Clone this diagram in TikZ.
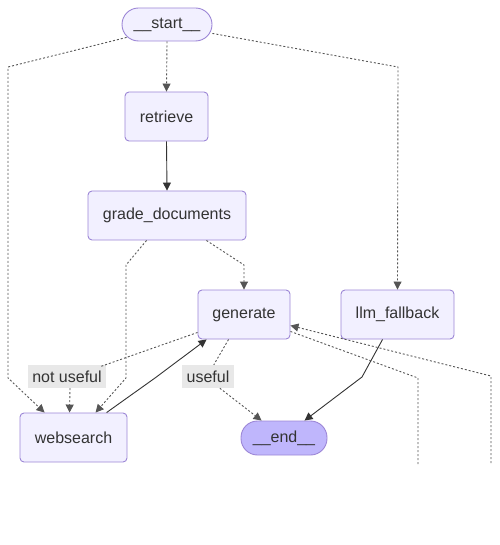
\documentclass[tikz,border=0pt]{standalone}
\usepackage{fontspec}
\setmainfont{Liberation Sans}
\usetikzlibrary{arrows.meta}
\definecolor{nodefill}{HTML}{F2F0FF}
\definecolor{nodestroke}{HTML}{9C86D6}
\definecolor{endfill}{HTML}{BFB6FC}
\definecolor{edgecol}{HTML}{333333}
\definecolor{dashcol}{HTML}{555555}
\definecolor{lblfill}{HTML}{E8E8E8}
\definecolor{txtcol}{HTML}{333333}
\tikzset{
  box/.style={draw=nodestroke, fill=nodefill, rounded corners=4pt, line width=0.9pt,
    font=\fontsize{16}{19}\selectfont, text=txtcol, inner sep=0pt},
  stadium/.style={draw=nodestroke, line width=0.9pt, rounded corners=16.5pt,
    font=\fontsize{16}{19}\selectfont, text=txtcol, inner sep=0pt},
  solidedge/.style={draw=edgecol, line width=0.9pt, -{Triangle[length=8pt,width=8pt]}},
  dashedge/.style={draw=dashcol, line width=0.9pt, dash pattern=on 2pt off 2pt, -{Triangle[length=8pt,width=8pt]}},
  dashline/.style={draw=dashcol, line width=0.9pt, dash pattern=on 2pt off 2pt},
  lbl/.style={fill=lblfill, font=\fontsize{16}{19}\selectfont, text=txtcol, inner sep=0pt, minimum height=23pt},
}
\begin{document}
\begin{tikzpicture}[x=1pt,y=-1pt]
\useasboundingbox (0,0) rectangle (499,545);
% nodes
\node[stadium, fill=nodefill, minimum width=90pt, minimum height=33pt] (start) at (167,24.5) {\_\_start\_\_};
\node[box, minimum width=83pt, minimum height=49pt] (retrieve) at (166.5,116.5) {retrieve};
\node[box, minimum width=158pt, minimum height=49pt] (grade) at (167,215.5) {grade\_documents};
\node[box, minimum width=92pt, minimum height=49pt] (generate) at (244,314.5) {generate};
\node[box, minimum width=113pt, minimum height=49pt] (llm) at (397.5,314.5) {llm\_fallback};
\node[box, minimum width=107pt, minimum height=49pt] (web) at (73.5,437.5) {websearch};
\node[stadium, fill=endfill, minimum width=86pt, minimum height=34pt] (end) at (284,438) {\_\_end\_\_};
% labels
\node[lbl, minimum width=78pt] (lnot) at (67,376.5) {not useful};
\node[lbl, minimum width=52pt] (luse) at (208,376.5) {useful};
% coordinates
\coordinate (c1) at (8,67);
\coordinate (c2) at (8,378);
\coordinate (c3) at (398,67);
\coordinate (c4) at (244,265);
\coordinate (c5) at (126,265);
\coordinate (c6) at (126,378);
\coordinate (c7) at (155,378);
\coordinate (c8) at (362,377);
\coordinate (c9) at (418,378);
\coordinate (c10) at (418,465);
\coordinate (c11) at (491,376);
\coordinate (c12) at (491,463);
% edges
\draw[dashedge] (start.south) -- (retrieve.north);
\draw[dashedge] (start.south west) ++(5,-4) -- (c1) -- (c2) -- ([xshift=25pt]web.north west);
\draw[dashedge] (start.south east) ++(0,-8) -- (c3) -- (llm.north);
\draw[solidedge] (retrieve.south) -- (grade.south |- grade.north);
\draw[dashedge] ([xshift=-40pt]grade.south east) -- (c4) -- (generate.north);
\draw[dashedge] ([xshift=59pt]grade.south west) -- (c5) -- (c6) -- ([xshift=76pt]web.north west);
\draw[dashline] ([yshift=7pt]generate.south west) -- ([xshift=72pt,yshift=-2pt]lnot.north west);
\draw[dashedge] ([xshift=3pt]lnot.south) -- ([xshift=50pt]web.north west);
\draw[solidedge] ([xshift=87pt]web.north west) -- (c7) -- ([xshift=9pt]generate.south west);
\draw[dashline] ([xshift=31pt]generate.south west) -- ([xshift=32pt]luse.north west);
\draw[dashedge] ([xshift=38pt]luse.south west) -- ([xshift=21pt]end.north west);
\draw[solidedge] ([xshift=42pt]llm.south west) -- (c8) -- ([xshift=64pt]end.north west);
\draw[dashline] ([yshift=8pt]generate.south east) -- (c9) -- (c10);
\draw[dashedge] (c12) -- (c11) -- ([yshift=-36pt]generate.north east);
\end{tikzpicture}
\end{document}
